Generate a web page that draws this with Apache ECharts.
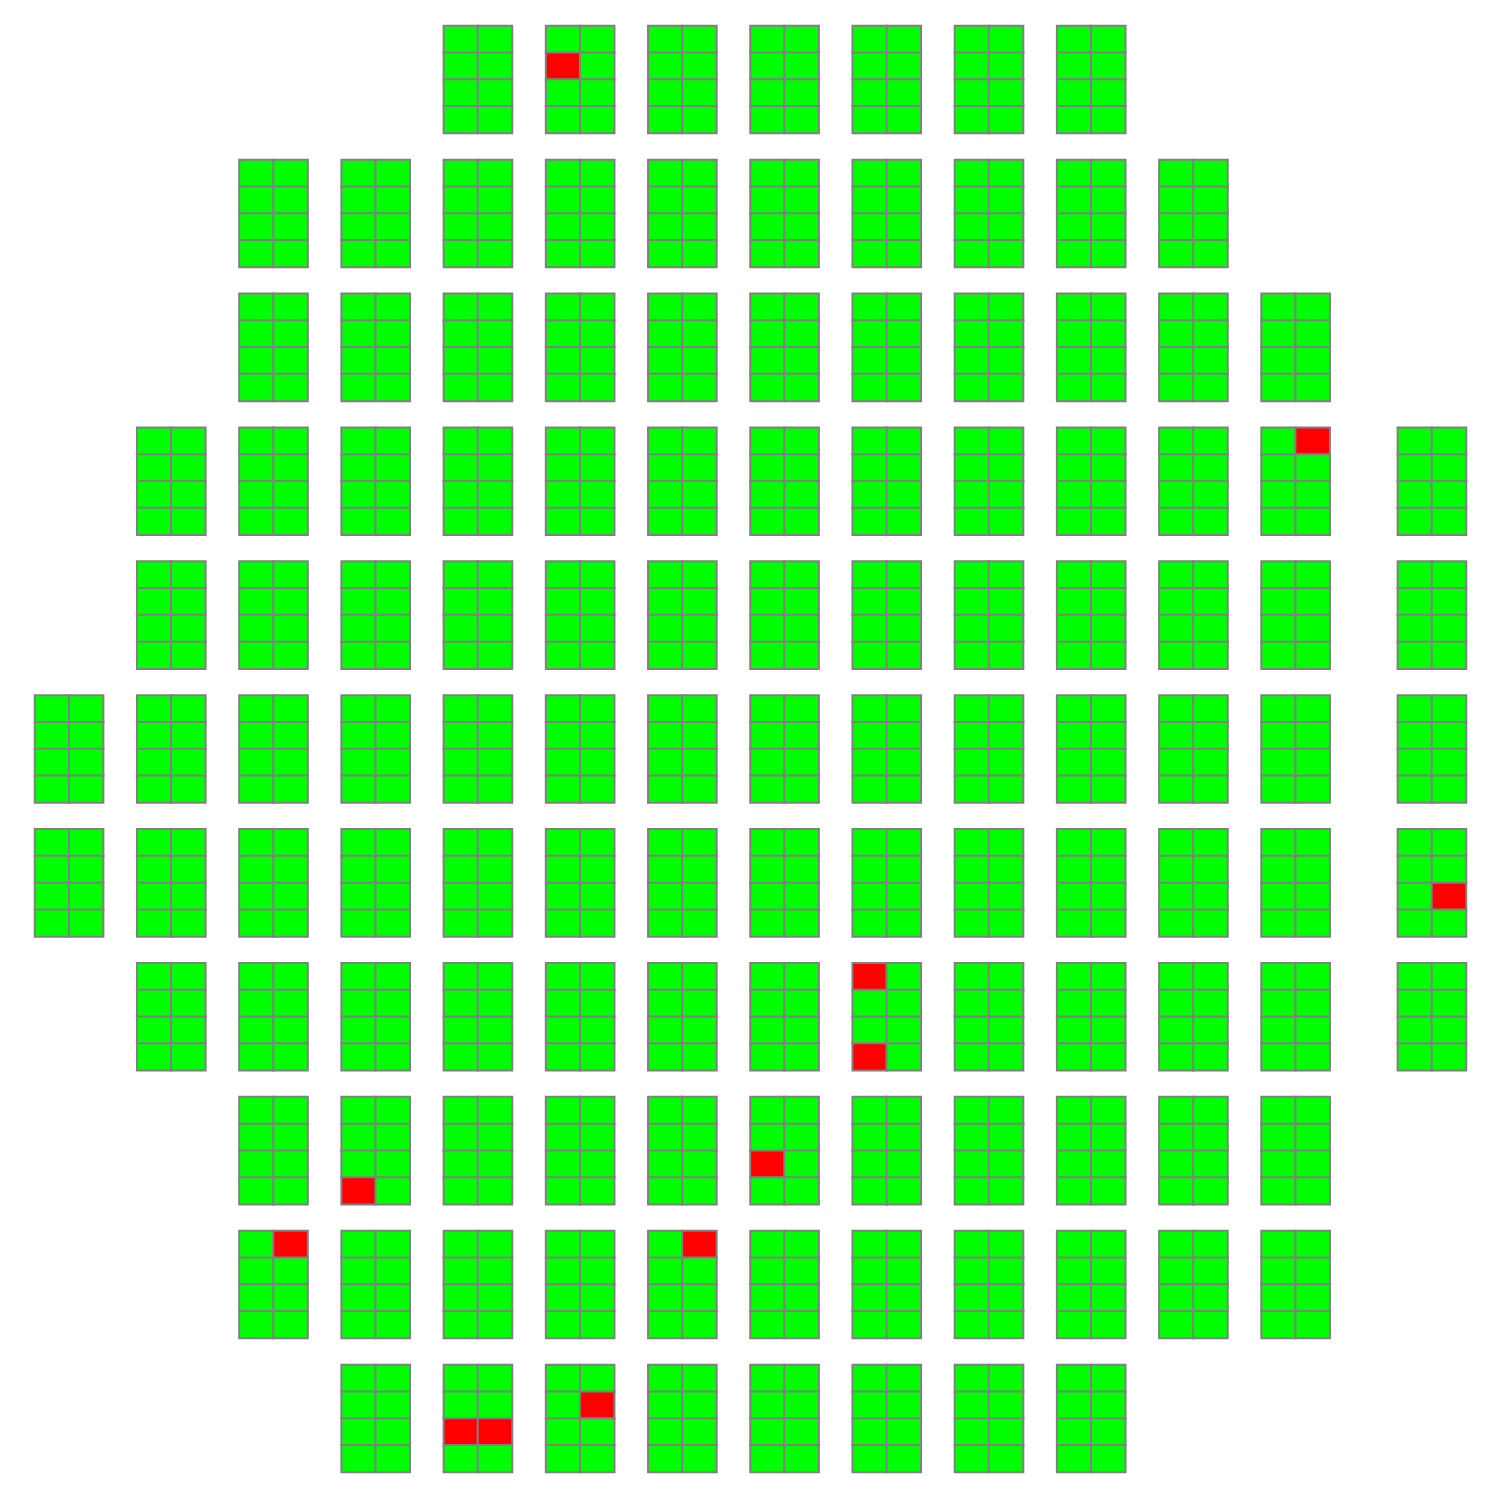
<!DOCTYPE html>
<html>
<head>
<meta charset="utf-8">
<script src="https://cdn.jsdelivr.net/npm/echarts@6/dist/echarts.min.js"></script>
<style>html,body{margin:0;padding:0;background:#fff}#c{width:1500px;height:1500px}</style>
</head>
<body>
<div id="c"></div>
<script>
// Grid size in cells
const nCols = 42;
const nRows = 54;
// Each die: 2 cells wide, 4 cells tall; die rows start every 5 cells
const dieWidth = 2;
const dieHeight = 4;
const dieRowPitch = 5;
// Left-most cell column of each die, per die row (top to bottom)
const dieRowStarts = [
  [12, 15, 18, 21, 24, 27, 30],
  [6, 9, 12, 15, 18, 21, 24, 27, 30, 33],
  [6, 9, 12, 15, 18, 21, 24, 27, 30, 33, 36],
  [3, 6, 9, 12, 15, 18, 21, 24, 27, 30, 33, 36, 40],
  [3, 6, 9, 12, 15, 18, 21, 24, 27, 30, 33, 36, 40],
  [0, 3, 6, 9, 12, 15, 18, 21, 24, 27, 30, 33, 36, 40],
  [0, 3, 6, 9, 12, 15, 18, 21, 24, 27, 30, 33, 36, 40],
  [3, 6, 9, 12, 15, 18, 21, 24, 27, 30, 33, 36, 40],
  [6, 9, 12, 15, 18, 21, 24, 27, 30, 33, 36],
  [6, 9, 12, 15, 18, 21, 24, 27, 30, 33, 36],
  [9, 12, 15, 18, 21, 24, 27, 30]
];
// Failing cells [column, row]
const failCells = [
  [15, 1], [37, 15], [41, 32], [24, 35], [24, 38],
  [21, 42], [9, 43], [7, 45], [19, 45],
  [16, 51], [12, 52], [13, 52]
];

const xCats = [];
for (let i = 0; i < nCols; i++) xCats.push(String(i));
const yCats = [];
for (let i = 0; i < nRows; i++) yCats.push(String(i));

const failSet = new Set(failCells.map(p => p[0] + ',' + p[1]));
const data = [];
dieRowStarts.forEach((starts, r) => {
  starts.forEach(x0 => {
    for (let dx = 0; dx < dieWidth; dx++) {
      for (let dy = 0; dy < dieHeight; dy++) {
        const x = x0 + dx, y = r * dieRowPitch + dy;
        data.push([x, y, failSet.has(x + ',' + y) ? 0 : 1]);
      }
    }
  });
});

const chart = echarts.init(document.getElementById('c'), null, {renderer: 'canvas'});
chart.setOption({
  animation: false,
  backgroundColor: '#ffffff',
  grid: {left: 35, right: 34, top: 26, bottom: 28},
  xAxis: {type: 'category', data: xCats, show: false, splitArea: {show: false}},
  yAxis: {type: 'category', data: yCats, inverse: true, show: false, splitArea: {show: false}},
  visualMap: {
    type: 'piecewise', show: false, dimension: 2,
    pieces: [{value: 0, color: '#ff0000'}, {value: 1, color: '#00ff00'}]
  },
  series: [{
    type: 'heatmap',
    data: data,
    itemStyle: {borderColor: '#808080', borderWidth: 2},
    emphasis: {disabled: true}
  }]
});
</script>
</body>
</html>
